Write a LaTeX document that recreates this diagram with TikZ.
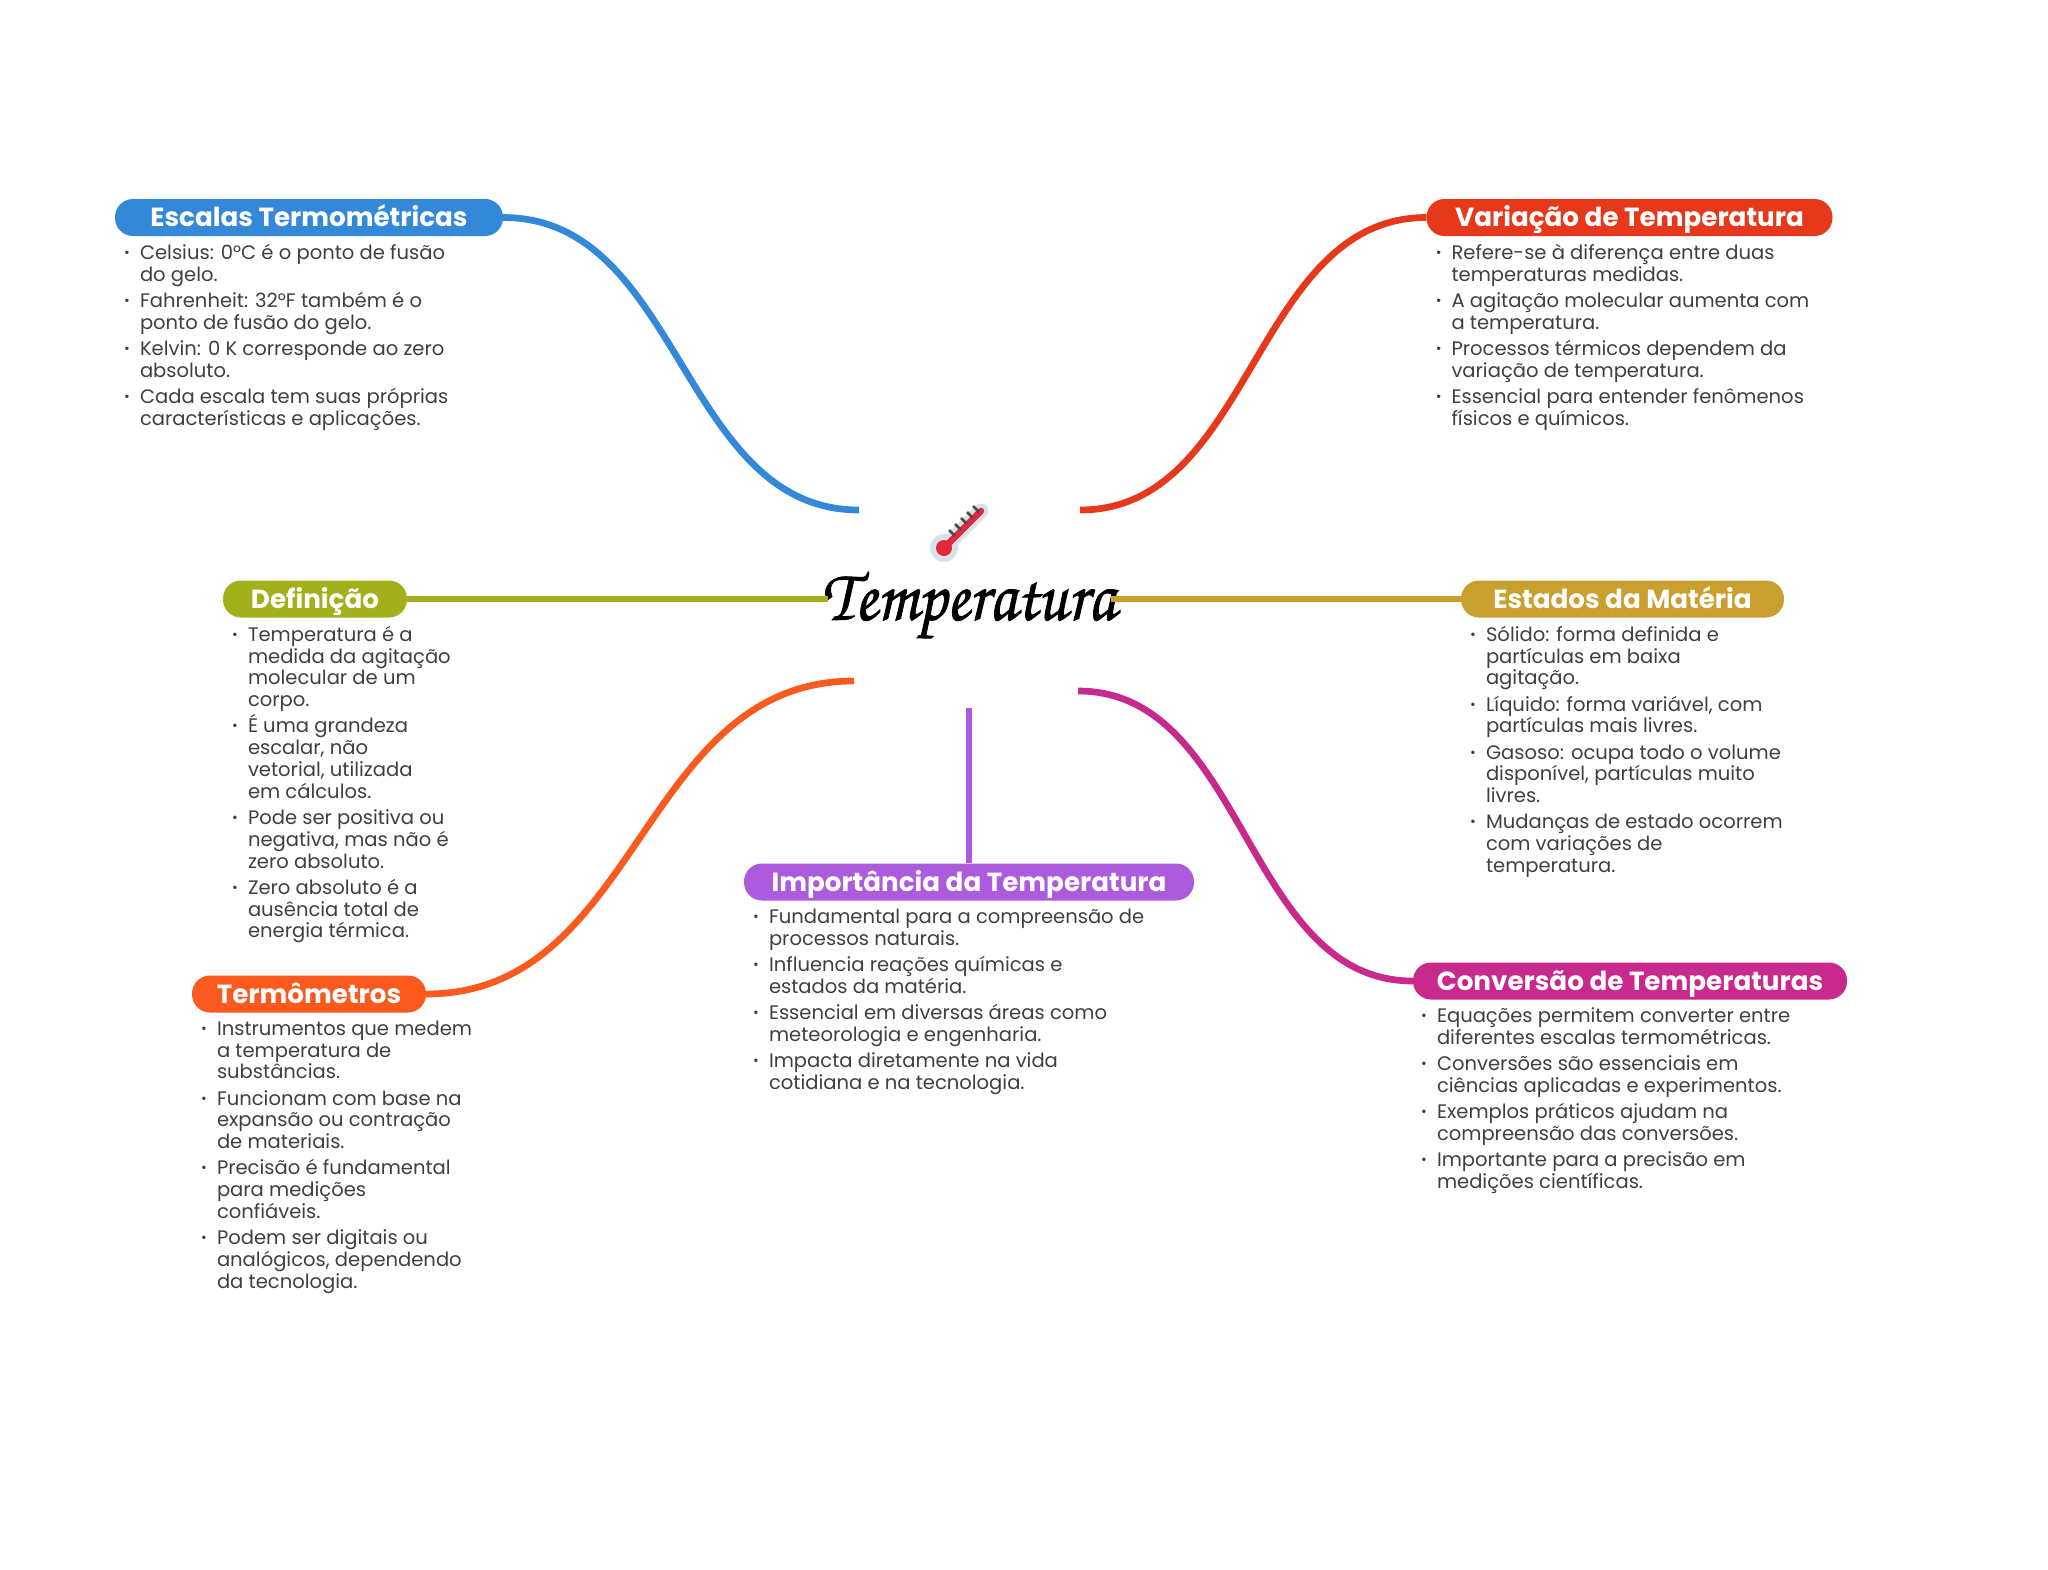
\documentclass[tikz,border=0pt]{standalone}
\usepackage{fontspec}
\setmainfont{Poppins}
\newfontfamily\titlefont[FakeBold=1.2]{TeX Gyre Chorus}
\usetikzlibrary{positioning}
\definecolor{cblue}{HTML}{3488D8}
\definecolor{cred}{HTML}{E6391C}
\definecolor{colive}{HTML}{A2B01C}
\definecolor{cgold}{HTML}{C9A02E}
\definecolor{cpurple}{HTML}{AB5BDB}
\definecolor{corange}{HTML}{FA5A1E}
\definecolor{cmagenta}{HTML}{C8298C}
\definecolor{ctext}{HTML}{3F3F3F}
\definecolor{chalo}{HTML}{D9E2E8}
\definecolor{cmercury}{HTML}{E0283F}
\newcommand{\itm}{\leavevmode\llap{{\fontsize{14}{14}\selectfont\raisebox{2pt}{•}}\hspace{10pt}}}
\newcommand{\notefont}{\fontsize{19.55}{21.8}\selectfont\lineskiplimit=-100pt\relax}
\begin{document}
\begin{tikzpicture} [
						x=1pt, y=-1pt,
						topic/.style={fill=#1, text=white, rounded corners=18pt, minimum height=37pt, inner sep=0pt, text height=21pt, text depth=3pt, font=\fontsize{26.2}{26.2}\selectfont\bfseries},
						notes/.style={below=8pt of #1.south west, anchor=north west, xshift=25pt, inner sep=0pt, align=left, text=ctext, font=\notefont},
						branch/.style={draw=#1, line width=6.7pt}
					]

\useasboundingbox (0,0) rectangle (2048,1569);

\node (title) [yscale=1.12] at (968.5,605) {\titlefont\fontsize{66}{66}\selectfont Temperatura};

\node (escalas) [topic=cblue, minimum width=388pt] at (309,217.5) {Escalas Termométricas};
\node (variacao) [topic=cred, minimum width=406pt] at (1629.5,217.5) {Variação de Temperatura};
\node (definicao) [topic=colive, minimum width=184pt] at (315,599) {Definição};
\node (estados) [topic=cgold, minimum width=323pt] at (1622.5,599) {Estados da Matéria};
\node (importancia) [topic=cpurple, minimum width=450pt] at (969,882) {Importância da Temperatura};
\node (termometros) [topic=corange, minimum width=234pt] at (309,994) {Termômetros};
\node (conversao) [topic=cmagenta, minimum width=434pt] at (1630,981) {Conversão de Temperaturas};

\node (escalasText) [notes=escalas] {\itm Celsius: 0°C é o ponto de fusão\\do gelo.\\[4.4pt]
	\itm Fahrenheit: 32°F também é o\\ponto de fusão do gelo.\\[4.4pt]
	\itm Kelvin: 0 K corresponde ao zero\\absoluto.\\[4.4pt]
	\itm Cada escala tem suas próprias\\características e aplicações.};
\node (variacaoText) [notes=variacao] {\itm Refere-se à diferença entre duas\\temperaturas medidas.\\[4.4pt]
	\itm A agitação molecular aumenta com\\a temperatura.\\[4.4pt]
	\itm Processos térmicos dependem da\\variação de temperatura.\\[4.4pt]
	\itm Essencial para entender fenômenos\\físicos e químicos.};
\node (definicaoText) [notes=definicao] {\itm Temperatura é a\\medida da agitação\\molecular de um\\corpo.\\[4.4pt]
	\itm É uma grandeza\\escalar, não\\vetorial, utilizada\\em cálculos.\\[4.4pt]
	\itm Pode ser positiva ou\\negativa, mas não é\\zero absoluto.\\[4.4pt]
	\itm Zero absoluto é a\\ausência total de\\energia térmica.};
\node (estadosText) [notes=estados] {\itm Sólido: forma definida e\\partículas em baixa\\agitação.\\[4.4pt]
	\itm Líquido: forma variável, com\\partículas mais livres.\\[4.4pt]
	\itm Gasoso: ocupa todo o volume\\disponível, partículas muito\\livres.\\[4.4pt]
	\itm Mudanças de estado ocorrem\\com variações de\\temperatura.};
\node (importanciaText) [notes=importancia] {\itm Fundamental para a compreensão de\\processos naturais.\\[4.4pt]
	\itm Influencia reações químicas e\\estados da matéria.\\[4.4pt]
	\itm Essencial em diversas áreas como\\meteorologia e engenharia.\\[4.4pt]
	\itm Impacta diretamente na vida\\cotidiana e na tecnologia.};
\node (termometrosText) [notes=termometros] {\itm Instrumentos que medem\\a temperatura de\\substâncias.\\[4.4pt]
	\itm Funcionam com base na\\expansão ou contração\\de materiais.\\[4.4pt]
	\itm Precisão é fundamental\\para medições\\confiáveis.\\[4.4pt]
	\itm Podem ser digitais ou\\analógicos, dependendo\\da tecnologia.};
\node (conversaoText) [notes=conversao, xshift=-1pt] {\itm Equações permitem converter entre\\diferentes escalas termométricas.\\[4.4pt]
	\itm Conversões são essenciais em\\ciências aplicadas e experimentos.\\[4.4pt]
	\itm Exemplos práticos ajudam na\\compreensão das conversões.\\[4.4pt]
	\itm Importante para a precisão em\\medições científicas.};

\coordinate (hubBlue) at (859,510);
\coordinate (hubRed) at (1080,510);
\coordinate (hubOlive) at (828,599);
\coordinate (hubGold) at (1111,599);
\coordinate (hubOrange) at (854,681);
\coordinate (hubMagenta) at (1078,691);
\coordinate (hubPurple) at (969,708);

\path[branch=cblue] (escalas.east) .. controls +(178,0) and +(-178,0) .. (hubBlue);
\path[branch=cred] (variacao.west) .. controls +(-173,0) and +(173,0) .. (hubRed);
\path[branch=colive] (definicao.east) -- (hubOlive);
\path[branch=cgold] (estados.west) -- (hubGold);
\path[branch=corange] (termometros.east) .. controls +(214,0) and +(-214,0) .. (hubOrange);
\path[branch=cmagenta] (conversao.west) .. controls +(-168,0) and +(168,0) .. (hubMagenta);
\path[branch=cpurple] (importancia.north) -- (hubPurple);

\draw[line width=15pt, draw=chalo, line cap=round] (946,546) -- (981,511);
\fill[chalo] (944,548) circle (14pt);
\draw[line width=6.5pt, draw=cmercury, line cap=round] (945,547) -- (981,511);
\fill[cmercury] (944,548) circle (8pt);
\foreach \i in {0,...,4}
	\draw[line width=2.5pt, draw=black!70] (949+\i*6,530-\i*6) -- (955+\i*6,536-\i*6);
\end{tikzpicture}
\end{document}
